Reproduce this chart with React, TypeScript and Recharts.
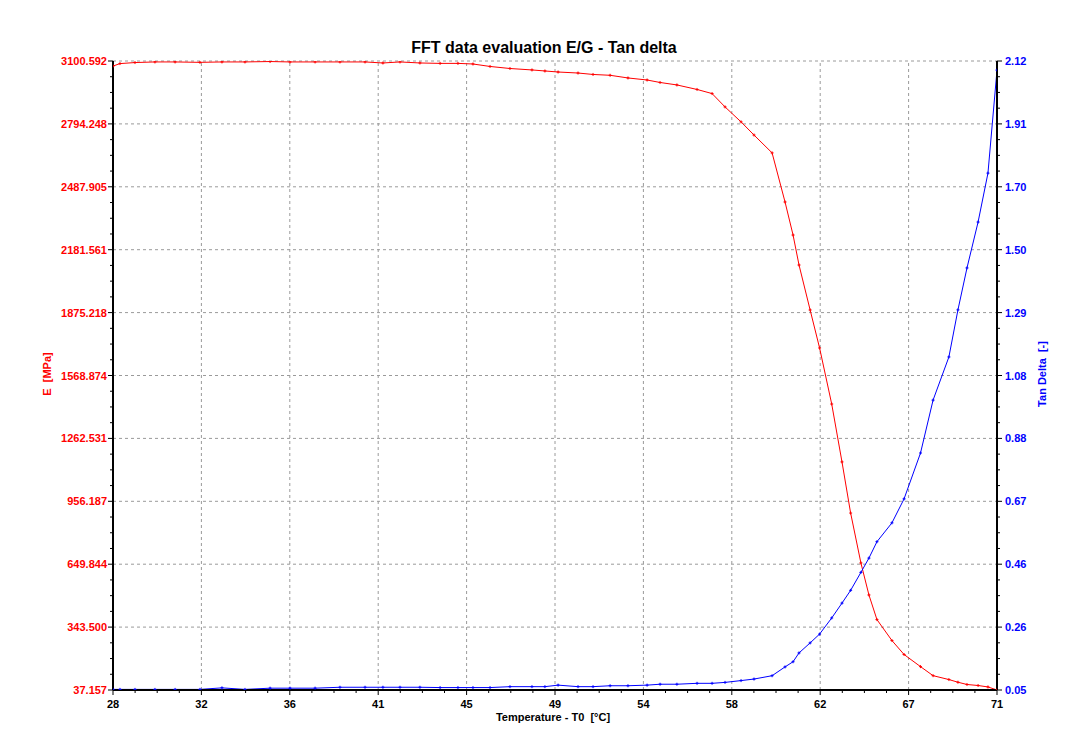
import React from 'react';
import { LineChart, Line, XAxis, YAxis, ReferenceLine } from 'recharts';

// Temperature [°C]
const temps = [28.0, 28.34, 29.07, 30.04, 31.02, 32.23, 33.3, 34.42, 35.64, 36.61, 37.83, 39.04, 40.26, 41.13, 41.96, 42.93, 43.91, 44.78, 45.51, 46.34, 47.31, 48.38, 49.01, 49.65, 50.62, 51.35, 52.18, 53.05, 53.98, 54.61, 55.43, 56.41, 57.14, 57.77, 58.55, 59.18, 60.06, 60.69, 61.08, 61.37, 61.91, 62.37, 62.96, 63.46, 63.88, 64.38, 64.77, 65.16, 65.89, 66.48, 67.28, 67.89, 68.66, 69.1, 69.54, 70.08, 70.56, 71.0];
// E [MPa]
const eValues = [3076, 3088, 3093, 3096, 3096, 3094, 3096, 3096, 3098, 3096, 3096, 3096, 3096, 3091, 3096, 3091, 3089, 3089, 3086, 3074, 3064, 3057, 3052, 3047, 3042, 3035, 3031, 3018, 3008, 2996, 2984, 2962, 2942, 2877, 2804, 2740, 2653, 2414, 2253, 2107, 1888, 1703, 1430, 1148, 899, 656, 500, 380, 278, 210, 151, 107, 88, 75, 64, 59, 52, 37.2];
// Tan delta [-]
const tanValues = [0.052, 0.052, 0.052, 0.052, 0.052, 0.052, 0.057, 0.052, 0.056, 0.056, 0.056, 0.059, 0.059, 0.059, 0.059, 0.059, 0.058, 0.058, 0.058, 0.058, 0.061, 0.061, 0.061, 0.066, 0.061, 0.061, 0.064, 0.064, 0.066, 0.069, 0.069, 0.072, 0.072, 0.075, 0.081, 0.086, 0.097, 0.126, 0.143, 0.172, 0.205, 0.234, 0.287, 0.336, 0.378, 0.437, 0.484, 0.538, 0.6, 0.679, 0.83, 1.004, 1.146, 1.301, 1.439, 1.59, 1.751, 2.09];

const xTicks = [28, 32.3, 36.6, 40.9, 45.2, 49.5, 53.8, 58.1, 62.4, 66.7, 71];
const xTickLabels = ['28', '32', '36', '41', '45', '49', '54', '58', '62', '67', '71'];
const eTicks = [37.157, 343.5, 649.844, 956.187, 1262.531, 1568.874, 1875.218, 2181.561, 2487.905, 2794.248, 3100.592];
const eTickLabels = ['37.157', '343.500', '649.844', '956.187', '1262.531', '1568.874', '1875.218', '2181.561', '2487.905', '2794.248', '3100.592'];
const tanTicks = [0.05, 0.257, 0.464, 0.671, 0.878, 1.085, 1.292, 1.499, 1.706, 1.913, 2.12];
const tanTickLabels = ['0.05', '0.26', '0.46', '0.67', '0.88', '1.08', '1.29', '1.50', '1.70', '1.91', '2.12'];

const data = temps.map((t, i) => ({ t, E: eValues[i], tan: tanValues[i] }));

const withMinor = (major: number[]) => {
  const out: number[] = [];
  for (let i = 0; i < major.length; i++) {
    out.push(major[i]);
    if (i < major.length - 1) {
      const step = (major[i + 1] - major[i]) / 4;
      for (let k = 1; k < 4; k++) out.push(major[i] + step * k);
    }
  }
  return out;
};

const xAll = withMinor(xTicks);
const eAll = withMinor(eTicks);
const tanAll = withMinor(tanTicks);

const FONT = '"Liberation Sans", Arial, sans-serif';
const RED = '#ff0000';
const BLUE = '#0000ff';
const GRID = '#9a9a9a';

const XTick = (props: any) => {
  const { x, y, payload } = props;
  const idx = xTicks.indexOf(payload.value);
  const major = idx >= 0;
  return (
    <g>
      <line x1={x} y1={y} x2={x} y2={y + (major ? 5 : 3)} stroke="#000" strokeWidth={1} />
      {major && (
        <text x={x} y={y + 18} textAnchor="middle" fontFamily={FONT} fontWeight="bold" fontSize={11} fill="#000">
          {xTickLabels[idx]}
        </text>
      )}
    </g>
  );
};

const LeftTick = (props: any) => {
  const { x, y, payload } = props;
  const idx = eTicks.indexOf(payload.value);
  const major = idx >= 0;
  return (
    <g>
      <line x1={x} y1={y} x2={x - (major ? 5 : 3)} y2={y} stroke="#000" strokeWidth={1} />
      {major && (
        <text x={x - 6} y={y + 4} textAnchor="end" fontFamily={FONT} fontWeight="bold" fontSize={11} fill={RED}>
          {eTickLabels[idx]}
        </text>
      )}
    </g>
  );
};

const RightTick = (props: any) => {
  const { x, y, payload } = props;
  const idx = tanTicks.indexOf(payload.value);
  const major = idx >= 0;
  return (
    <g>
      <line x1={x} y1={y} x2={x + (major ? 5 : 3)} y2={y} stroke="#000" strokeWidth={1} />
      {major && (
        <text x={x + 8} y={y + 4} textAnchor="start" fontFamily={FONT} fontWeight="bold" fontSize={11} fill={BLUE}>
          {tanTickLabels[idx]}
        </text>
      )}
    </g>
  );
};

const makeDot = (color: string, prefix: string) => (p: any) => {
  const { cx, cy, index } = p;
  if (cx == null || cy == null) return <g key={`${prefix}-${index}`} />;
  return (
    <path
      key={`${prefix}-${index}`}
      d={`M${cx - 1.5},${cy}h3M${cx},${cy - 1.5}v3`}
      stroke={color}
      strokeWidth={1}
      fill="none"
    />
  );
};

export default function App() {
  return (
    <div style={{ position: 'absolute', left: 0, top: 0, width: 1072, height: 747, background: '#fff' }}>
      <LineChart width={1072} height={747} data={data} margin={{ top: 61, right: 15, bottom: 27, left: 13 }}>
        {xTicks.map((v) => (
          <ReferenceLine key={`gx-${v}`} x={v} yAxisId="left" stroke={GRID} strokeDasharray="3 3" strokeWidth={1} />
        ))}
        {eTicks.map((v) => (
          <ReferenceLine key={`gy-${v}`} y={v} yAxisId="left" stroke={GRID} strokeDasharray="3 3" strokeWidth={1} />
        ))}
        <XAxis
          dataKey="t"
          type="number"
          domain={[28, 71]}
          ticks={xAll}
          interval={0}
          height={30}
          tickSize={0}
          tickMargin={0}
          tickLine={false}
          tick={<XTick />}
          axisLine={{ stroke: '#000', strokeWidth: 2 }}
          allowDataOverflow
        />
        <YAxis
          yAxisId="left"
          orientation="left"
          type="number"
          domain={[37.157, 3100.592]}
          ticks={eAll}
          interval={0}
          width={100}
          tickSize={0}
          tickMargin={0}
          tickLine={false}
          tick={<LeftTick />}
          axisLine={{ stroke: '#000', strokeWidth: 2 }}
          allowDataOverflow
        />
        <YAxis
          yAxisId="right"
          orientation="right"
          type="number"
          domain={[0.05, 2.12]}
          ticks={tanAll}
          interval={0}
          width={60}
          tickSize={0}
          tickMargin={0}
          tickLine={false}
          tick={<RightTick />}
          axisLine={{ stroke: '#000', strokeWidth: 2 }}
          allowDataOverflow
        />
        <Line
          yAxisId="left"
          type="linear"
          dataKey="E"
          stroke={RED}
          strokeWidth={1}
          dot={makeDot(RED, 'e')}
          activeDot={false}
          isAnimationActive={false}
        />
        <Line
          yAxisId="right"
          type="linear"
          dataKey="tan"
          stroke={BLUE}
          strokeWidth={1}
          dot={makeDot(BLUE, 't')}
          activeDot={false}
          isAnimationActive={false}
        />
      </LineChart>
      <svg width={1072} height={747} style={{ position: 'absolute', left: 0, top: 0, pointerEvents: 'none' }}>
        <text x={544} y={53} textAnchor="middle" fontFamily={FONT} fontWeight="bold" fontSize={16} fill="#000">
          FFT data evaluation E/G - Tan delta
        </text>
        <text
          x={553}
          y={721}
          textAnchor="middle"
          fontFamily={FONT}
          fontWeight="bold"
          fontSize={11}
          fill="#000"
          style={{ whiteSpace: 'pre' }}
        >
          Temperature - T0  [°C]
        </text>
        <text
          x={0}
          y={0}
          transform="translate(51, 374) rotate(-90)"
          textAnchor="middle"
          fontFamily={FONT}
          fontWeight="bold"
          fontSize={11}
          fill={RED}
          style={{ whiteSpace: 'pre' }}
        >
          E  [MPa]
        </text>
        <text
          x={0}
          y={0}
          transform="translate(1046, 374) rotate(-90)"
          textAnchor="middle"
          fontFamily={FONT}
          fontWeight="bold"
          fontSize={11}
          fill={BLUE}
          style={{ whiteSpace: 'pre' }}
        >
          Tan Delta  [-]
        </text>
      </svg>
    </div>
  );
}
